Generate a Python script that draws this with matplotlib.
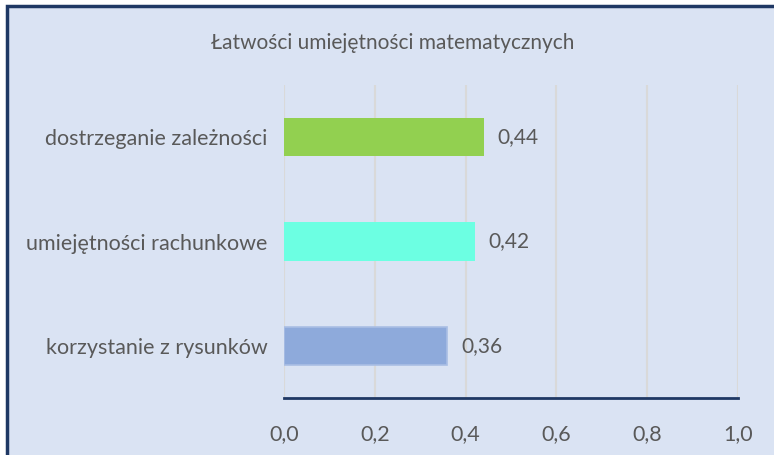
import matplotlib.pyplot as plt
from matplotlib.patches import Rectangle

# dane
kategorie = ['korzystanie z rysunków', 'umiejętności rachunkowe', 'dostrzeganie zależności']
wartosci = [0.36, 0.42, 0.44]
kolory = ['#8EAADB', '#6CFFE2', '#92D050']
ticki = [0.0, 0.2, 0.4, 0.6, 0.8, 1.0]
tytul = 'Łatwości umiejętności matematycznych'

tlo = '#DAE3F3'
szary = '#595959'
plt.rcParams['font.family'] = ['Lato', 'DejaVu Sans']

fig = plt.figure(figsize=(7.74, 4.55), dpi=100)
fig.patch.set_facecolor('white')
# ramka wykresu
fig.patches.append(Rectangle((7 / 774, -0.05), 1.1, 1 - 6 / 455 + 0.05, transform=fig.transFigure,
                             facecolor=tlo, edgecolor='#1F3864', linewidth=2.5, zorder=-1))

ax = fig.add_axes([284 / 774, 57 / 455, 454 / 774, 313 / 455])
ax.set_facecolor('none')
ax.set_zorder(1)

y = range(len(kategorie))
ax.barh(y, wartosci, height=0.37, color=kolory, zorder=3)
ax.patches[0].set_edgecolor('#A9BEE4')
ax.patches[0].set_linewidth(1.2)

for i, v in enumerate(wartosci):
    ax.text(v + 0.03, i, f'{v:.2f}'.replace('.', ','), va='center', ha='left',
            fontsize=15, color=szary)

ax.set_xlim(0, 1.0)
ax.set_ylim(-0.5, len(kategorie) - 0.5)
ax.set_xticks(ticki)
ax.set_xticklabels([f'{t:.1f}'.replace('.', ',') for t in ticki], fontsize=15.5, color=szary)
ax.set_yticks(list(y))
ax.set_yticklabels(kategorie, fontsize=15.5, color=szary)
ax.tick_params(length=0)
ax.tick_params(axis='x', pad=19)
ax.tick_params(axis='y', pad=12)

ax.grid(axis='x', color='#D9D9D9', linewidth=1.5, zorder=0)
for s in ['top', 'right', 'left']:
    ax.spines[s].set_visible(False)
ax.spines['bottom'].set_color('#1F3864')
ax.spines['bottom'].set_linewidth(2)
ax.spines['bottom'].set_zorder(4)

fig.text(393 / 774, 1 - 43 / 455, tytul, ha='center', va='center', fontsize=15, color=szary)

fig.savefig('out.png', dpi=100)
